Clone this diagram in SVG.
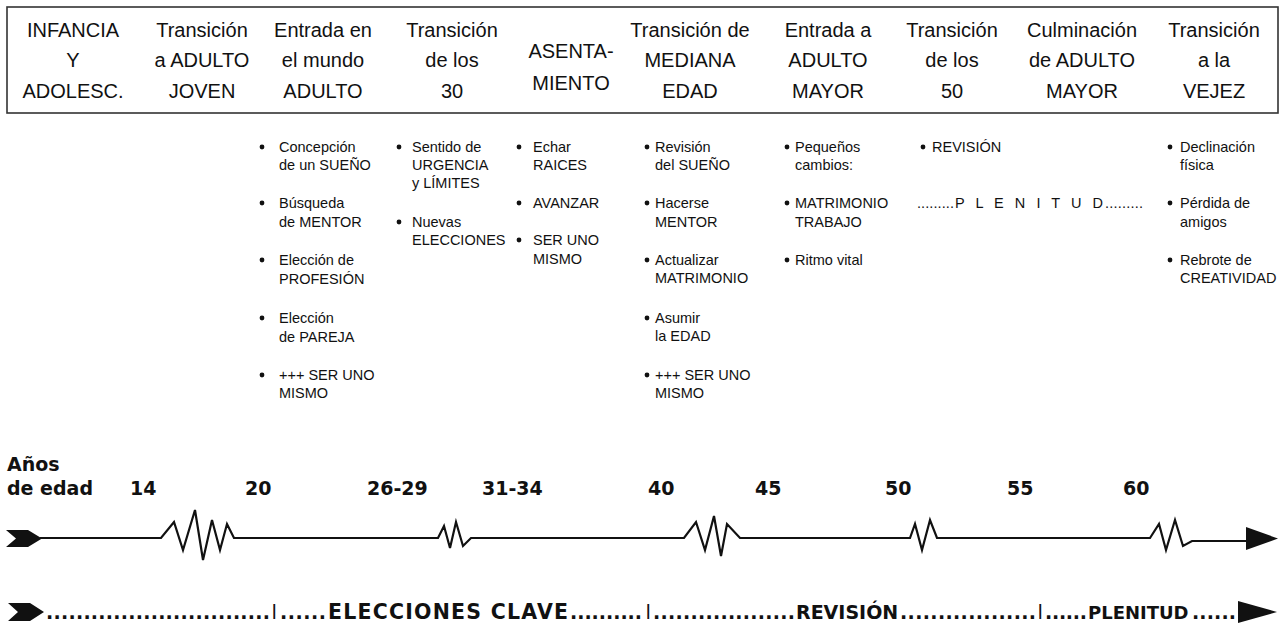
<svg xmlns="http://www.w3.org/2000/svg" width="1284" height="628" viewBox="0 0 1284 628">
<style>
.h{font-family:"Liberation Sans",Arial,sans-serif;font-size:20px;fill:#111;text-anchor:middle}
.b{font-family:"Liberation Sans",Arial,sans-serif;font-size:14.5px;fill:#111}
.t{font-family:"DejaVu Sans",sans-serif;font-weight:bold;font-size:19px;fill:#111}
.d{font-family:"DejaVu Sans",sans-serif;font-weight:bold;font-size:19px;fill:#111}
.w{font-family:"DejaVu Sans",sans-serif;font-weight:bold;font-size:20.5px;fill:#111}
.sep{font-family:"Liberation Sans",Arial,sans-serif;font-size:20px;fill:#111}
.line{fill:none;stroke:#111;stroke-width:2.2;stroke-linejoin:miter}
</style>
<defs>
<circle id="dot" r="2.4" fill="#111"/>
</defs>
<rect width="1284" height="628" fill="#fff"/>
<g id="header">
<rect x="7" y="7" width="1271" height="106" fill="none" stroke="#333" stroke-width="1.6"/>
<g id="h1"><text class="h" x="73" y="37">INFANCIA</text><text class="h" x="73" y="67">Y</text><text class="h" x="73" y="98">ADOLESC.</text></g>
<g id="h2"><text class="h" x="202" y="37">Transición</text><text class="h" x="202" y="67">a ADULTO</text><text class="h" x="202" y="98">JOVEN</text></g>
<g id="h3"><text class="h" x="323" y="37">Entrada en</text><text class="h" x="323" y="67">el mundo</text><text class="h" x="323" y="98">ADULTO</text></g>
<g id="h4"><text class="h" x="452" y="37">Transición</text><text class="h" x="452" y="67">de los</text><text class="h" x="452" y="98">30</text></g>
<g id="h5"><text class="h" x="571" y="58">ASENTA-</text><text class="h" x="571" y="90">MIENTO</text></g>
<g id="h6"><text class="h" x="690" y="37">Transición de</text><text class="h" x="690" y="67">MEDIANA</text><text class="h" x="690" y="98">EDAD</text></g>
<g id="h7"><text class="h" x="828" y="37">Entrada a</text><text class="h" x="828" y="67">ADULTO</text><text class="h" x="828" y="98">MAYOR</text></g>
<g id="h8"><text class="h" x="952" y="37">Transición</text><text class="h" x="952" y="67">de los</text><text class="h" x="952" y="98">50</text></g>
<g id="h9"><text class="h" x="1082" y="37">Culminación</text><text class="h" x="1082" y="67">de ADULTO</text><text class="h" x="1082" y="98">MAYOR</text></g>
<g id="h10"><text class="h" x="1214" y="37">Transición</text><text class="h" x="1214" y="67">a la</text><text class="h" x="1214" y="98">VEJEZ</text></g>
</g>
<g id="list-entrada">
<use href="#dot" x="262" y="147"/><text class="b" x="279" y="152">Concepción</text><text class="b" x="279" y="170">de un SUEÑO</text>
<use href="#dot" x="262" y="203"/><text class="b" x="279" y="208">Búsqueda</text><text class="b" x="279" y="227">de MENTOR</text>
<use href="#dot" x="262" y="260"/><text class="b" x="279" y="265">Elección de</text><text class="b" x="279" y="284">PROFESIÓN</text>
<use href="#dot" x="262" y="318"/><text class="b" x="279" y="323">Elección</text><text class="b" x="279" y="342">de PAREJA</text>
<use href="#dot" x="262" y="375"/><text class="b" x="279" y="380">+++ SER UNO</text><text class="b" x="279" y="398">MISMO</text>
</g>
<g id="list-trans30">
<use href="#dot" x="399" y="147"/><text class="b" x="412" y="152">Sentido de</text><text class="b" x="412" y="170">URGENCIA</text><text class="b" x="412" y="188">y LÍMITES</text>
<use href="#dot" x="399" y="222"/><text class="b" x="412" y="227">Nuevas</text><text class="b" x="412" y="245">ELECCIONES</text>
</g>
<g id="list-asent">
<use href="#dot" x="519" y="147"/><text class="b" x="533" y="152">Echar</text><text class="b" x="533" y="170">RAICES</text>
<use href="#dot" x="519" y="203"/><text class="b" x="533" y="208">AVANZAR</text>
<use href="#dot" x="519" y="240"/><text class="b" x="533" y="245">SER UNO</text><text class="b" x="533" y="264">MISMO</text>
</g>
<g id="list-mediana">
<use href="#dot" x="647" y="147"/><text class="b" x="655" y="152">Revisión</text><text class="b" x="655" y="170">del SUEÑO</text>
<use href="#dot" x="647" y="203"/><text class="b" x="655" y="208">Hacerse</text><text class="b" x="655" y="227">MENTOR</text>
<use href="#dot" x="647" y="260"/><text class="b" x="655" y="265">Actualizar</text><text class="b" x="655" y="283">MATRIMONIO</text>
<use href="#dot" x="647" y="318"/><text class="b" x="655" y="323">Asumir</text><text class="b" x="655" y="341">la EDAD</text>
<use href="#dot" x="647" y="375"/><text class="b" x="655" y="380">+++ SER UNO</text><text class="b" x="655" y="398">MISMO</text>
</g>
<g id="list-mayor">
<use href="#dot" x="787" y="147"/><text class="b" x="795" y="152">Pequeños</text><text class="b" x="795" y="170">cambios:</text>
<use href="#dot" x="787" y="203"/><text class="b" x="795" y="208">MATRIMONIO</text><text class="b" x="795" y="227">TRABAJO</text>
<use href="#dot" x="787" y="260"/><text class="b" x="795" y="265">Ritmo vital</text>
</g>
<g id="list-50">
<use href="#dot" x="923" y="147"/><text class="b" x="932" y="152">REVISIÓN</text>
<text class="b" x="917" y="208" textLength="37" lengthAdjust="spacing">.........</text>
<text class="b" x="955" y="208" textLength="148" lengthAdjust="spacing">P L E N I T U D</text>
<text class="b" x="1105" y="208" textLength="38" lengthAdjust="spacing">.........</text>
</g>
<g id="list-vejez">
<use href="#dot" x="1170" y="147"/><text class="b" x="1180" y="152">Declinación</text><text class="b" x="1180" y="170">física</text>
<use href="#dot" x="1170" y="203"/><text class="b" x="1180" y="208">Pérdida de</text><text class="b" x="1180" y="227">amigos</text>
<use href="#dot" x="1170" y="260"/><text class="b" x="1180" y="265">Rebrote de</text><text class="b" x="1180" y="283">CREATIVIDAD</text>
</g>
<g id="ages">
<text class="t" x="7" y="471">Años</text>
<text class="t" x="7" y="495">de edad</text>
<text class="t" x="130" y="495">14</text>
<text class="t" x="245" y="495">20</text>
<text class="t" x="367" y="495">26-29</text>
<text class="t" x="482" y="495">31-34</text>
<text class="t" x="648" y="495">40</text>
<text class="t" x="755" y="495">45</text>
<text class="t" x="885" y="495">50</text>
<text class="t" x="1007" y="495">55</text>
<text class="t" x="1123" y="495">60</text>
</g>
<g id="connectors">
<polygon points="6,530 28,530 42,538.5 28,547 6,547 16,538.5" fill="#111"/>
<path class="line" d="M40,538 H161 L174,522 L183,550 L195,510 L203,560 L212,520 L220,550 L227,524 L234,538 H438 L444,526 L450,548 L456,522 L463,546 L471,538 H684 L696,522 L705,550 L714,516 L721,556 L727,524 L740,538 H910 L915,524 L922,550 L930,520 L937,538 H1150 L1159,524 L1166,550 L1175,520 L1183,546 L1192,541 H1248"/>
<polygon points="1246,527 1278,538.5 1246,550" fill="#111"/>
</g>
<g id="phases">
<polygon points="8,603 30,603 44,612 30,621 8,621 18,612" fill="#111"/>
<text class="d" x="46" y="619" textLength="224" lengthAdjust="spacing">..............................</text>
<text class="sep" x="272" y="619">l</text>
<text class="d" x="280" y="619" textLength="46" lengthAdjust="spacing">......</text>
<text class="w" x="328" y="619" textLength="240" lengthAdjust="spacing">ELECCIONES CLAVE</text>
<text class="d" x="570" y="619" textLength="72" lengthAdjust="spacing">..........</text>
<text class="sep" x="646" y="619">l</text>
<text class="d" x="653" y="619" textLength="142" lengthAdjust="spacing">...................</text>
<text class="w" x="796" y="619" style="font-size:19px">REVISIÓN</text>
<text class="d" x="900" y="619" textLength="136" lengthAdjust="spacing">..................</text>
<text class="sep" x="1038" y="619">l</text>
<text class="d" x="1045" y="619" textLength="42" lengthAdjust="spacing">......</text>
<text class="w" x="1088" y="619" style="font-size:18px">PLENITUD</text>
<text class="d" x="1192" y="619" textLength="44" lengthAdjust="spacing">......</text>
<polygon points="1238,601 1277,612 1238,623" fill="#111"/>
</g>
</svg>
